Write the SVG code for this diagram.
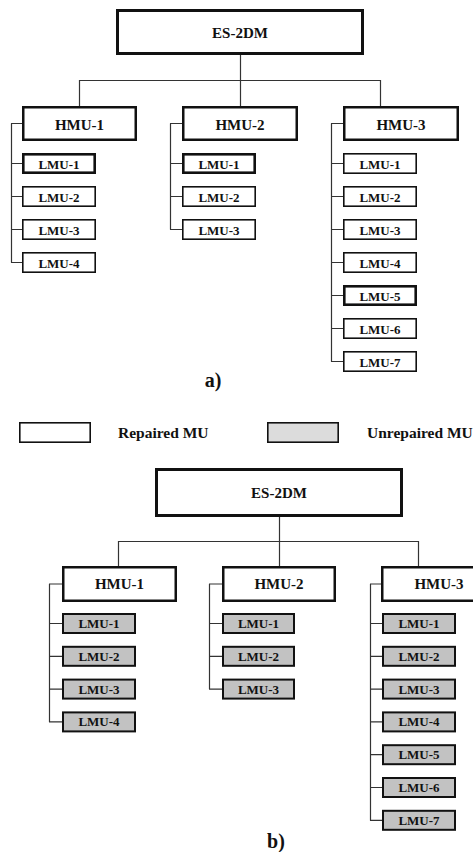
<svg xmlns="http://www.w3.org/2000/svg" width="473" height="852" viewBox="0 0 473 852" font-family="Liberation Serif, serif" font-weight="bold">
<style>
text{fill:#111;text-anchor:middle}
.es{fill:#fff;stroke:#111;stroke-width:3}
.hmu{fill:#fff;stroke:#111;stroke-width:2.5}
.lmu{fill:#fff;stroke:#111;stroke-width:1.6}
.lmuT{fill:#fff;stroke:#111;stroke-width:2.6}
.lmuG{fill:#c2c2c2;stroke:#111;stroke-width:2}
.t15{font-size:15px}
.t13{font-size:13px}
.cap{font-size:20px}
.leg{font-size:15.5px;text-anchor:start}
.conn{stroke:#333;stroke-width:1.2;fill:none}
</style>
<rect width="473" height="852" fill="#fff"/>

<g id="connectors">
  <path class="conn" d="M240.5 55V80.5M79.5 80.5H380.5M79.5 80V106M240.5 80V106M380.5 80V106"/>
  <path class="conn" d="M11.5 123.5V262.5M11 123.5H22M11 163.5H22M11 196.5H22M11 229.5H22M11 262.5H22"/>
  <path class="conn" d="M170.5 123.5V229.5M170 123.5H182M170 163.5H182M170 196.5H182M170 229.5H182"/>
  <path class="conn" d="M331.5 123.5V361.5M331 123.5H343M331 163.5H343M331 196.5H343M331 229.5H343M331 262.5H343M331 295.5H343M331 328.5H343M331 361.5H343"/>
  <path class="conn" d="M279.5 517V541.5M118.5 541.5H418.5M118.5 541V566M279.5 541V566M418.5 541V566"/>
  <path class="conn" d="M49.5 584V722M49 584H62M49 623.5H62M49 656.3H62M49 689.1H62M49 721.9H62"/>
  <path class="conn" d="M209.5 584V689M209 584H222M209 623.5H222M209 656.3H222M209 689.1H222"/>
  <path class="conn" d="M370.5 584V820.5M370 584H381M370 623.5H382M370 656.3H382M370 689.1H382M370 721.9H382M370 754.7H382M370 787.5H382M370 820.3H382"/>
</g>

<g id="a-es2dm"><rect class="es" x="117.5" y="10.5" width="245" height="43"/><text class="t15" x="240" y="38">ES-2DM</text></g>
<g id="a-hmu1"><rect class="hmu" x="23.25" y="107.25" width="112.5" height="32.5"/><text class="t15" x="79.5" y="130">HMU-1</text></g>
<g id="a-hmu2"><rect class="hmu" x="183.25" y="107.25" width="113.5" height="32.5"/><text class="t15" x="240" y="130">HMU-2</text></g>
<g id="a-hmu3"><rect class="hmu" x="344.25" y="107.25" width="113.5" height="32.5"/><text class="t15" x="401" y="130">HMU-3</text></g>

<g id="a-h1-lmu1"><rect class="lmuT" x="23.3" y="154.3" width="71.4" height="18.4"/><text class="t13" x="59" y="168.5">LMU-1</text></g>
<g id="a-h1-lmu2"><rect class="lmu" x="22.8" y="186.8" width="72.4" height="19.4"/><text class="t13" x="59" y="201.5">LMU-2</text></g>
<g id="a-h1-lmu3"><rect class="lmu" x="22.8" y="219.8" width="72.4" height="19.4"/><text class="t13" x="59" y="234.5">LMU-3</text></g>
<g id="a-h1-lmu4"><rect class="lmu" x="22.8" y="252.8" width="72.4" height="19.4"/><text class="t13" x="59" y="267.5">LMU-4</text></g>

<g id="a-h2-lmu1"><rect class="lmuT" x="183.3" y="154.3" width="71.4" height="18.4"/><text class="t13" x="219" y="168.5">LMU-1</text></g>
<g id="a-h2-lmu2"><rect class="lmu" x="182.8" y="186.8" width="72.4" height="19.4"/><text class="t13" x="219" y="201.5">LMU-2</text></g>
<g id="a-h2-lmu3"><rect class="lmu" x="182.8" y="219.8" width="72.4" height="19.4"/><text class="t13" x="219" y="234.5">LMU-3</text></g>

<g id="a-h3-lmu1"><rect class="lmu" x="343.8" y="153.8" width="72.4" height="19.4"/><text class="t13" x="380" y="168.5">LMU-1</text></g>
<g id="a-h3-lmu2"><rect class="lmu" x="343.8" y="186.8" width="72.4" height="19.4"/><text class="t13" x="380" y="201.5">LMU-2</text></g>
<g id="a-h3-lmu3"><rect class="lmu" x="343.8" y="219.8" width="72.4" height="19.4"/><text class="t13" x="380" y="234.5">LMU-3</text></g>
<g id="a-h3-lmu4"><rect class="lmu" x="343.8" y="252.8" width="72.4" height="19.4"/><text class="t13" x="380" y="267.5">LMU-4</text></g>
<g id="a-h3-lmu5"><rect class="lmuT" x="344.3" y="286.3" width="71.4" height="18.4"/><text class="t13" x="380" y="300.5">LMU-5</text></g>
<g id="a-h3-lmu6"><rect class="lmu" x="343.8" y="318.8" width="72.4" height="19.4"/><text class="t13" x="380" y="333.5">LMU-6</text></g>
<g id="a-h3-lmu7"><rect class="lmu" x="343.8" y="351.8" width="72.4" height="19.4"/><text class="t13" x="380" y="366.5">LMU-7</text></g>

<text class="cap" x="213" y="387">a)</text>

<g id="legend-repaired"><rect class="lmu" x="19.8" y="422.8" width="70.4" height="19.4"/><text class="leg" x="118" y="438">Repaired MU</text></g>
<g id="legend-unrepaired"><rect class="lmu" x="267.8" y="422.8" width="70.4" height="19.4" style="fill:#dcdcdc"/><text class="leg" x="367" y="438">Unrepaired MU</text></g>

<g id="b-es2dm"><rect class="es" x="156.5" y="469.5" width="245" height="46"/><text class="t15" x="279" y="498">ES-2DM</text></g>
<g id="b-hmu1"><rect class="hmu" x="63.25" y="567.25" width="112.5" height="33.5"/><text class="t15" x="119.5" y="589">HMU-1</text></g>
<g id="b-hmu2"><rect class="hmu" x="223.25" y="567.25" width="111.5" height="33.5"/><text class="t15" x="279" y="589">HMU-2</text></g>
<g id="b-hmu3"><rect class="hmu" x="382.25" y="567.25" width="112.5" height="33.5"/><text class="t15" x="439" y="589">HMU-3</text></g>

<g id="b-h1-lmu1"><rect class="lmuG" x="63" y="614" width="72" height="19"/><text class="t13" x="99" y="628">LMU-1</text></g>
<g id="b-h1-lmu2"><rect class="lmuG" x="63" y="646.8" width="72" height="19"/><text class="t13" x="99" y="660.8">LMU-2</text></g>
<g id="b-h1-lmu3"><rect class="lmuG" x="63" y="679.6" width="72" height="19"/><text class="t13" x="99" y="693.6">LMU-3</text></g>
<g id="b-h1-lmu4"><rect class="lmuG" x="63" y="712.4" width="72" height="19"/><text class="t13" x="99" y="726.4">LMU-4</text></g>

<g id="b-h2-lmu1"><rect class="lmuG" x="223" y="614" width="71" height="19"/><text class="t13" x="258.5" y="628">LMU-1</text></g>
<g id="b-h2-lmu2"><rect class="lmuG" x="223" y="646.8" width="71" height="19"/><text class="t13" x="258.5" y="660.8">LMU-2</text></g>
<g id="b-h2-lmu3"><rect class="lmuG" x="223" y="679.6" width="71" height="19"/><text class="t13" x="258.5" y="693.6">LMU-3</text></g>

<g id="b-h3-lmu1"><rect class="lmuG" x="383" y="614" width="72" height="19"/><text class="t13" x="419" y="628">LMU-1</text></g>
<g id="b-h3-lmu2"><rect class="lmuG" x="383" y="646.8" width="72" height="19"/><text class="t13" x="419" y="660.8">LMU-2</text></g>
<g id="b-h3-lmu3"><rect class="lmuG" x="383" y="679.6" width="72" height="19"/><text class="t13" x="419" y="693.6">LMU-3</text></g>
<g id="b-h3-lmu4"><rect class="lmuG" x="383" y="712.4" width="72" height="19"/><text class="t13" x="419" y="726.4">LMU-4</text></g>
<g id="b-h3-lmu5"><rect class="lmuG" x="383" y="745.2" width="72" height="19"/><text class="t13" x="419" y="759.2">LMU-5</text></g>
<g id="b-h3-lmu6"><rect class="lmuG" x="383" y="778" width="72" height="19"/><text class="t13" x="419" y="792">LMU-6</text></g>
<g id="b-h3-lmu7"><rect class="lmuG" x="383" y="810.8" width="72" height="19"/><text class="t13" x="419" y="824.8">LMU-7</text></g>

<text class="cap" x="276" y="848">b)</text>
</svg>
